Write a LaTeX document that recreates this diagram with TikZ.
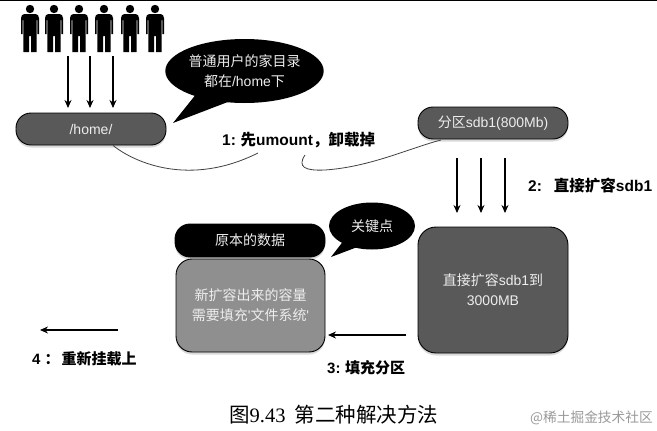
\documentclass[tikz,border=0pt]{standalone}
\usepackage{fontspec}
\setmainfont{Noto Sans CJK SC}
\newfontfamily\capfont{Noto Sans CJK SC}
\newfontfamily\capnum{Liberation Serif}
\newfontfamily\latf{Liberation Sans}
\newcommand{\lat}[1]{{\latf #1}}
\usetikzlibrary{shapes.geometric,shadows,arrows.meta}
\definecolor{darkbox}{gray}{0.35}
\definecolor{midbox}{gray}{0.56}
\definecolor{softwhite}{gray}{0.93}
\tikzset{
  pill/.style={draw=black,line width=0.9pt,rounded corners=#1,inner sep=0pt,align=center,text=softwhite,
    font=\fontsize{14}{20}\selectfont,drop shadow={shadow xshift=0pt,shadow yshift=-2.5pt,opacity=.3}},
  bubble/.style={ellipse,fill=black,inner sep=0pt,align=center,text=softwhite,font=\fontsize{14}{20}\selectfont},
  steplabel/.style={inner sep=0pt,text=black,font=\fontsize{15}{18}\selectfont\bfseries},
  widelabel/.style={steplabel,font=\fontsize{15.5}{18}\selectfont\bfseries},
  downarrow/.style={-{Stealth[length=8pt,width=7pt]},line width=1.1pt,black},
  linkcurve/.style={line width=0.8pt,draw=black!75},
  figure/.pic={
    \fill[black] (0,-43) circle (4.2);
    \fill[black] (-9,-34) to[out=90,in=180] (-5.5,-38) -- (5.5,-38) to[out=0,in=90] (9,-34)
      -- (9,-18) -- (7.4,-18) -- (7.4,-32) -- (6.6,-32) -- (6.6,0) -- (1,0) -- (1,-16) -- (-1,-16)
      -- (-1,0) -- (-6.6,0) -- (-6.6,-32) -- (-7.4,-32) -- (-7.4,-18) -- (-9,-18) -- cycle;
  }
}
\begin{document}
\begin{tikzpicture}[x=1pt,y=-1pt]
\useasboundingbox (0,0) rectangle (657,431);
\fill[black] (0,0) rectangle (657,1);
% people
\foreach \px in {30,54,79,104,130,155} {
  \pic at (\px,52) {figure};
}
% top arrows
\foreach \i/\ax in {1/68,2/90,3/113} {
  \coordinate (ua\i) at (\ax,56);
  \coordinate (ub\i) at (\ax,108);
  \draw[downarrow] (ua\i) -- (ub\i);
}
\node[pill=15pt,fill=darkbox,minimum width=150pt,minimum height=32pt] (home) at (91,129) {\lat{/home/}};
% speech bubble
\coordinate (tailA) at (173,123);
\fill[black] (tailA) -- (201,88) -- (233,100) -- cycle;
\node[bubble,minimum width=146pt,minimum height=64pt] (say) at (244.5,71) {普通用户的家目录\\都在\lat{/home}下};
% sdb1
\node[pill=15pt,fill=darkbox,minimum width=150pt,minimum height=32pt] (sdb) at (493,123) {分区\lat{sdb1(800Mb)}};
\foreach \i/\ax in {1/457,2/481,3/505} {
  \coordinate (da\i) at (\ax,158);
  \coordinate (db\i) at (\ax,213);
  \draw[downarrow] (da\i) -- (db\i);
}
\node[pill=18pt,fill=darkbox,minimum width=150pt,minimum height=126pt] (big) at (493,290) {直接扩容\lat{sdb1}到\\\lat{3000MB}};
% left stack
\node[pill=15pt,fill=black,minimum width=150pt,minimum height=33pt] (orig) at (250,240.5) {原本的数据};
\node[pill=16pt,fill=midbox,minimum width=149pt,minimum height=93pt] (fillbox) at (250.5,305.5) {新扩容出来的容量\\需要填充\lat{'}文件系统\lat{'}};
\coordinate (tailB) at (331,257);
\fill[black] (tailB) -- (348,235) -- (368,243) -- cycle;
\node[bubble,minimum width=86pt,minimum height=47pt] (key) at (372,226) {关键点};
% horizontal arrows
\coordinate (c3a) at (406,335);
\coordinate (c3b) at (328,335);
\draw[downarrow] (c3a) -- (c3b);
\coordinate (c4a) at (118,330);
\coordinate (c4b) at (40,330);
\draw[downarrow] (c4a) -- (c4b);
% curves
\coordinate (end1) at (258,153);
\coordinate (start2) at (305,155);
\draw[linkcurve] (home.south)++(22,0) .. controls (135,163) and (190,187) .. (end1);
\draw[linkcurve] (start2) .. controls (297,167) and (305,171) .. (325,170)
  .. controls (370,167) and (410,148) .. (441,140);
% labels
\node[widelabel,anchor=west] (l1) at (222,140) {\lat{1:} 先\lat{umount}，卸载掉};
\node[widelabel,anchor=west] (l2) at (528,186) {\lat{2:}\hspace{12pt}直接扩容\lat{sdb1}};
\node[steplabel,anchor=west] (l3) at (327,368) {\lat{3:} 填充分区};
\node[steplabel,anchor=west] (l4) at (32,359) {\lat{4}\hspace{4pt}：\hspace{2pt}重新挂载上};
\node[inner sep=0pt,anchor=west,font=\fontsize{20.5}{24}\selectfont] (cap) at (229,415) {\capfont 图\capnum 9.43\hspace{9pt}\capfont 第二种解决方法};
\node[inner sep=0pt,anchor=west,text=black!40,font=\fontsize{13.7}{16}\selectfont] (mark) at (530,418) {@稀土掘金技术社区};
\end{tikzpicture}
\end{document}
